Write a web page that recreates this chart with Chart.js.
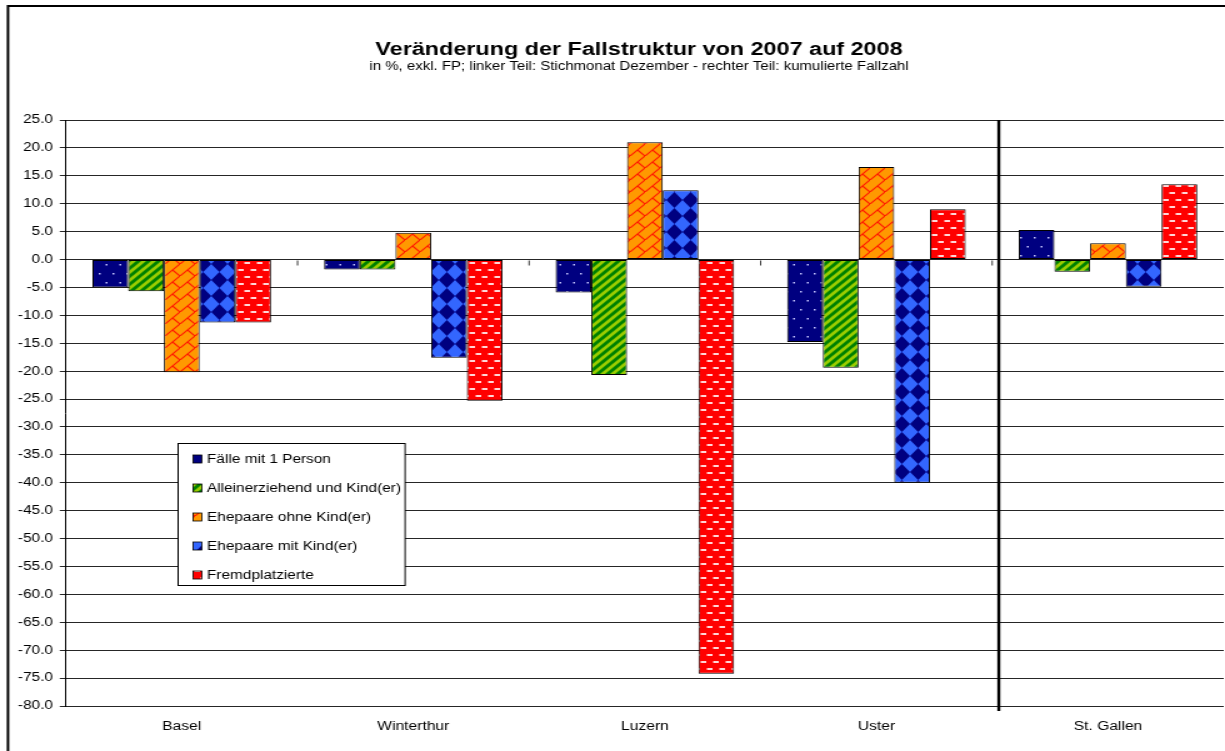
<!DOCTYPE html>
<html>
<head>
<meta charset="utf-8">
<script src="https://cdn.jsdelivr.net/npm/chart.js@4/dist/chart.umd.min.js"></script>
<style>
  html, body { margin: 0; padding: 0; background: #fff; overflow: hidden; }
  /* the reference is stretched sideways, so the whole chart is drawn narrow and widened */
  #wrap { position: absolute; left: 0; top: 0; width: 980px; height: 751px; transform: scaleX(1.25); transform-origin: 0 0; }
</style>
</head>
<body>
<div id="wrap"><canvas id="barChart"></canvas></div>
<script>

// dati (in %)
var categories = ["Basel", "Winterthur", "Luzern", "Uster", "St. Gallen"];
var seriesLabels = ["Fälle mit 1 Person", "Alleinerziehend und Kind(er)", "Ehepaare ohne Kind(er)", "Ehepaare mit Kind(er)", "Fremdplatzierte"];
var einPerson = [-5.0, -1.8, -5.9, -14.8, 5.3];
var alleinerziehend = [-5.7, -1.8, -20.7, -19.4, -2.2];
var ohneKind = [-20.2, 4.8, 21.0, 16.6, 2.9];
var mitKind = [-11.3, -17.6, 12.4, -40.0, -4.9];
var fremdplatziert = [-11.3, -25.3, -74.2, 9.0, 13.5];
var yTicks = { min: -80, max: 25, step: 5 };

var titleText = "Veränderung der Fallstruktur von 2007 auf 2008";
var subtitleText = "in %, exkl. FP; linker Teil: Stichmonat Dezember - rechter Teil: kumulierte Fallzahl";

var FONT = '"Liberation Sans", Arial, sans-serif';
var canvas = document.getElementById("barChart");
var baseCtx = canvas.getContext("2d");

function makePattern(w, h, bg, draw) {                      // piastrella ripetuta come fill delle barre
  var c = document.createElement("canvas");
  c.width = w;
  c.height = h;
  var p = c.getContext("2d");
  p.fillStyle = bg;
  p.fillRect(0, 0, w, h);
  draw(p, w, h);
  return baseCtx.createPattern(c, "repeat");
}

var dotPattern = makePattern(11, 18, "#000080", function (p) {
  p.fillStyle = "#c8c8ff";
  p.fillRect(2, 3, 1.5, 1.5);
  p.fillRect(7.5, 12, 1.5, 1.5);
});

var stripePattern = makePattern(8, 8, "#008000", function (p, w, h) {
  p.strokeStyle = "#99cc00";
  p.lineWidth = 2.8;
  p.beginPath();
  p.moveTo(-2, h + 2); p.lineTo(w + 2, -2);
  p.moveTo(-2, 2); p.lineTo(2, -2);
  p.moveTo(w - 2, h + 2); p.lineTo(w + 2, h - 2);
  p.stroke();
});

var brickPattern = makePattern(12, 12, "#ff9900", function (p, w, h) {
  p.strokeStyle = "#ff1a00";
  p.lineWidth = 1.2;
  p.beginPath();
  p.moveTo(-1, h + 1); p.lineTo(w + 1, -1);
  p.moveTo(6, 6); p.lineTo(w + 1, h + 1);
  p.stroke();
});

var diamondPattern = makePattern(13, 16, "#3366ff", function (p, w, h) {
  p.fillStyle = "#000080";
  p.beginPath();
  p.moveTo(w / 2, 0); p.lineTo(w, h / 2); p.lineTo(w / 2, h); p.lineTo(0, h / 2);
  p.closePath();
  p.fill();
});

var dashPattern = makePattern(10, 14, "#ff0000", function (p) {
  p.fillStyle = "#ffd6d6";
  p.fillRect(0.5, 3, 4.5, 2);
  p.fillRect(5.5, 10, 4.5, 2);
});

var fills = [dotPattern, stripePattern, brickPattern, diamondPattern, dashPattern];
var values = [einPerson, alleinerziehend, ohneKind, mitKind, fremdplatziert];

function buildDatasets() {
  var sets = [];
  for (var i = 0; i < values.length; i++) {
    sets.push({
      label: seriesLabels[i],
      data: values[i],
      backgroundColor: fills[i],
      borderColor: "#000",
      borderWidth: 1,
      borderSkipped: false
    });
  }
  return sets;
}

var decorations = {                                          // titolo, cornice, legenda, linea separatrice
  id: "decorations",
  afterDatasetsDraw: function (chart) {
    var ctx = chart.ctx;
    var area = chart.chartArea;
    var x = chart.scales.x;
    var y = chart.scales.y;
    ctx.save();

    // piccoli tick sull'asse dello zero tra le categorie
    var zero = Math.round(y.getPixelForValue(0)) + 0.5;
    ctx.strokeStyle = "#000";
    ctx.lineWidth = 0.8;
    ctx.beginPath();
    for (var i = 0; i < categories.length - 1; i++) {
      var bx = (x.getPixelForValue(i) + x.getPixelForValue(i + 1)) / 2;
      ctx.moveTo(bx, zero);
      ctx.lineTo(bx, zero + 5);
    }
    ctx.stroke();

    // linea spessa tra parte sinistra e destra
    var sep = (x.getPixelForValue(categories.length - 2) + x.getPixelForValue(categories.length - 1)) / 2 + 5.3;
    ctx.lineWidth = 2.4;
    ctx.beginPath();
    ctx.moveTo(sep, area.top);
    ctx.lineTo(sep, area.bottom + 5);
    ctx.stroke();

    // legenda
    var lx = area.left + 89.6;
    var ly = area.top + 323;
    ctx.fillStyle = "#fff";
    ctx.fillRect(lx, ly, 181.6, 142);
    ctx.lineWidth = 1;
    ctx.strokeRect(Math.round(lx) + 0.5, Math.round(ly) + 0.5, 181.6, 142);
    ctx.font = "12.3px " + FONT;
    ctx.textBaseline = "middle";
    ctx.textAlign = "left";
    for (var j = 0; j < seriesLabels.length; j++) {
      var ry = ly + 16 + j * 29;
      ctx.fillStyle = fills[j];
      ctx.fillRect(lx + 12, ry - 4, 7, 8);
      ctx.strokeStyle = "#000";
      ctx.lineWidth = 0.8;
      ctx.strokeRect(lx + 12, ry - 4, 7, 8);
      ctx.fillStyle = "#000";
      ctx.fillText(seriesLabels[j], lx + 23.2, ry + 0.5);
    }

    // titolo e sottotitolo
    ctx.textAlign = "center";
    ctx.textBaseline = "alphabetic";
    ctx.font = "bold 18.7px " + FONT;
    ctx.fillText(titleText, 511.2, 55);
    ctx.font = "12px " + FONT;
    ctx.fillText(subtitleText, 511.2, 69.5);

    // cornice esterna (tagliata a destra e in basso)
    ctx.strokeStyle = "#000";
    ctx.lineWidth = 2;
    ctx.beginPath();
    ctx.moveTo(6.4, chart.height + 5);
    ctx.lineTo(6.4, 6);
    ctx.lineTo(chart.width + 5, 6);
    ctx.stroke();

    ctx.restore();
  }
};

function createBarChart() {
  new Chart(canvas, {
    type: "bar",
    data: {
      labels: categories,
      datasets: buildDatasets()
    },
    options: {
      responsive: true,
      maintainAspectRatio: false,
      animation: false,
      layout: { padding: { top: 120, left: 0, right: 1, bottom: 0 } },
      datasets: {
        bar: { categoryPercentage: 0.771, barPercentage: 1 }
      },
      plugins: {
        legend: { display: false },
        title: { display: false },
        tooltip: { enabled: false }
      },
      scales: {
        x: {
          grid: { display: false, drawTicks: false },
          border: { display: false },
          ticks: { color: "#000", padding: 13, font: { family: FONT, size: 12.5 } },
          afterFit: function (scale) { scale.height = 45; }
        },
        y: {
          min: yTicks.min,
          max: yTicks.max,
          grid: { color: "#262626", lineWidth: 1, tickLength: 5 },
          border: { display: true, color: "#000", width: 1 },
          ticks: {
            stepSize: yTicks.step,
            color: "#000",
            padding: 5.4,
            font: { family: FONT, size: 12.3 },
            callback: function (v) { return Number(v).toFixed(1); }
          },
          afterFit: function (scale) { scale.width = 52.8; }
        }
      }
    },
    plugins: [decorations]
  });
}

function init() {
  Chart.defaults.font.family = FONT;
  createBarChart();
}

init();
</script>
</body>
</html>
